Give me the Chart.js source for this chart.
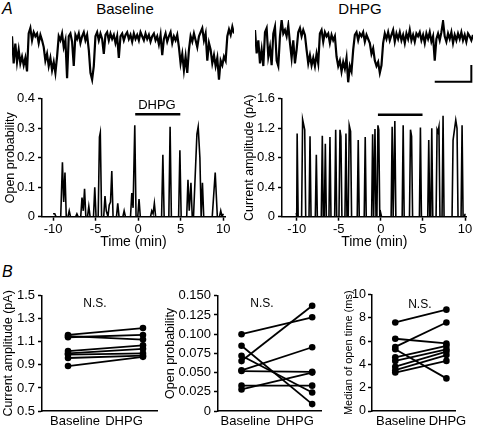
<!DOCTYPE html>
<html>
<head>
<meta charset="utf-8">
<script src="https://cdn.jsdelivr.net/npm/chart.js@4.4.0/dist/chart.umd.min.js"></script>
<style>
  body { margin: 0; background: #fff; width: 480px; height: 428px; position: relative; overflow: hidden;
         font-family: "Liberation Sans", Arial, Helvetica, sans-serif; color: #000; }
  .box { position: absolute; }
  .txt { position: absolute; line-height: 1; white-space: nowrap; }
</style>
</head>
<body>
<div class="txt" style="left:2px;top:1px;font-size:16px;font-style:italic">A</div>
<div class="txt" style="left:85px;top:1px;width:80px;text-align:center;font-size:15px">Baseline</div>
<div class="txt" style="left:320px;top:1px;width:80px;text-align:center;font-size:15px">DHPG</div>
<div class="txt" style="left:2px;top:264px;font-size:16px;font-style:italic">B</div>

<div class="box" style="left:12px;top:20px;width:222px;height:65px"><canvas id="traceBase"></canvas></div>
<div class="box" style="left:255px;top:20px;width:218px;height:65px"><canvas id="traceDhpg"></canvas></div>
<div class="box" style="left:0;top:88px;width:232px;height:165px"><canvas id="openProbTime"></canvas></div>
<div class="box" style="left:240px;top:88px;width:235px;height:165px"><canvas id="ampTime"></canvas></div>
<div class="box" style="left:0;top:285px;width:165px;height:143px"><canvas id="ampPaired"></canvas></div>
<div class="box" style="left:160px;top:285px;width:165px;height:143px"><canvas id="poPaired"></canvas></div>
<div class="box" style="left:340px;top:285px;width:130px;height:143px"><canvas id="otPaired"></canvas></div>

<script>
// ---- data ----
const groups = ['Baseline', 'DHPG'];
const dhpgWindow = [-0.35, 4.95];          // min, bar above the time courses

// single-channel traces (arbitrary units, 0 = closed level)
const baseTrace = [0, -1.0, -0.27, -0.95, -0.5, -1.0, -0.75, -1.07, -0.8, -1.3,
  0.1, 0.3, -0.15, 0.15, 0, 0.1, -0.25, 0.05, -0.15, -0.4,
  -0.9, -0.65, -1.1, -0.8, -1.25, -0.95, -1.35, -0.75, 0, -0.15,
  0.1, -0.4, -0.15, -1.55, 0, 0.1, -0.2, -1.1, 0.05, -0.1,
  0.1, -0.25, 0, 0.15, -0.15, 0.05, -0.5, -1.35, -1.6, -1.1,
  0, 0.15, -0.15, 0.1, -0.1, -0.65, 0.05, 0.15, -0.15, 0.1,
  -0.1, 0.05, -0.25, 0, -0.8, 0, 0.1, -0.15, 0.05, 0.15,
  -0.1, 0.05, -0.2, 0.1, -0.1, 0.05, -0.15, 0.15, 0, -0.15,
  0.1, -0.1, 0.05, -0.2, 0, 0.1, -0.15, 0, -0.3, 0.05,
  -0.7, -0.1, 0.1, -0.2, 0, 0.15, -0.25, 0, -0.15, 0.05,
  -0.4, -1.0, -0.65, -1.25, -0.75, -1.35, -0.5, 0, -0.2, 0.1,
  -0.15, -0.4, 0, 0.15, 0.3, -0.15, 0.1, -0.9, -0.25, -0.5,
  -1.0, -0.7, -1.1, -0.8, -1.6, -0.9, -1.07, -0.75, -0.9, 0,
  0.25, 0.05, 0.35, 0.1];
const dhpgTrace = [0.23, -0.63, -0.15, -1.0, -0.5, -1.1, 0.15, 0.3, -0.75, -0.4,
  -1.07, 0.1, 0.35, -0.9, -1.1, 0, 0.6, 0.1, 0.23, 0,
  0.4, -0.25, -0.8, -0.15, -1.0, -0.5, 0.15, 0.3, 0, 0.23,
  0.05, -0.5, -1.0, -0.7, -1.07, -0.8, -1.1, -0.65, -1.0, 0.1,
  0.23, -0.2, 0.15, 0, 0.1, -0.25, 0.05, -0.15, 0, -0.75,
  -1.1, -0.9, -1.3, -0.95, -1.2, -0.8, -1.7, -1.1, -1.3, -0.5,
  0.05, 0.15, -0.15, 0.1, 0, 0.15, -0.2, 0.05, -0.1, -0.25,
  -0.65, -0.45, -0.9, -1.1, -0.95, -1.35, -1.07, -0.25, 0.1, -0.1,
  0.15, -0.15, 0.05, 0.23, -0.2, 0.1, -0.1, 0.15, -0.15, 0.05,
  -0.25, 0.1, -0.1, 0.23, -0.15, 0.05, -0.2, 0.1, 0, 0.15,
  -0.15, 0.05, -0.25, 0.1, -0.1, 0.15, -0.2, 0, -0.9, -0.1,
  0.1, -0.15, 0.15, 0.55, 0, -0.2, 0.1, -0.1, 0.15, -0.25,
  0.05, -0.15, 0.1, -0.1, 0.15, -0.15, 0.05, -0.2, 0.1, 0,
  -0.15, 0.05];
const scaleBarX = [108, 130, 130];
const scaleBarY = [-1.68, -1.68, -1.06];

// open probability vs time
const poTime = [-10.0, -9.8, -9.65, -9.1, -8.9, -8.75, -8.6, -8.45, -8.25, -8.1, -7.95,
  -7.35, -7.2, -7.05, -6.75, -6.6, -6.45, -6.3, -6.15, -5.95, -5.8, -5.65,
  -5.25, -5.1, -4.95, -4.7, -4.55, -4.45, -4.3, -4.05, -3.9, -3.75, -3.55, -3.4, -3.25, -3.1, -2.95,
  -2.55, -2.4, -2.25, -1.8, -1.65, -1.5, -0.9, -0.75, -0.6, -0.4, -0.25, -0.05, 0.1, 0.25,
  1.45, 1.6, 1.75, 1.9, 2.05, 2.75, 2.9, 3.05, 3.6, 3.75, 3.9, 4.75, 4.9, 5.05,
  5.7, 5.85, 6.0, 6.2, 6.35, 6.5, 6.9, 7.05, 7.25, 7.4, 7.55, 7.7,
  8.7, 9.05, 9.3, 9.55, 9.7, 9.85, 10.0];
const poValue = [0.01, 0.01, 0, 0, 0.185, 0.05, 0.15, 0, 0, 0.02, 0,
  0, 0.01, 0, 0, 0.065, 0.02, 0.095, 0, 0, 0.035, 0,
  0, 0.1, 0, 0, 0.27, 0.285, 0, 0, 0.07, 0.02, 0, 0.04, 0.05, 0.155, 0,
  0, 0.045, 0, 0, 0.02, 0, 0, 0.08, 0.03, 0.31, 0, 0, 0.06, 0,
  0, 0.02, 0.01, 0.045, 0, 0, 0.21, 0, 0, 0.305, 0, 0, 0.225, 0,
  0, 0.125, 0.02, 0.115, 0, 0, 0.28, 0.305, 0.2, 0, 0.115, 0,
  0, 0.15, 0, 0, 0.02, 0, 0.01];

// current amplitude vs time
const caTime = [-10.05, -10.0, -9.95, -9.83, -9.42, -9.3, -9.05, -8.93, -8.54, -8.42, -8.3,
  -7.79, -7.67, -7.55, -7.08, -6.96, -6.84, -6.72, -6.6, -6.48, -6.17, -6.05, -5.93,
  -5.49, -5.37, -5.25, -4.98, -4.86, -4.75, -4.63, -4.27, -4.15, -4.03,
  -3.88, -3.76, -3.6, -3.48, -2.81, -2.69, -2.57, -1.98, -1.86, -1.74,
  -1.1, -0.98, -0.86, -0.82, -0.7, -0.58, -0.47, -0.35, -0.25, -0.13, -0.02, 0.08,
  1.22, 1.34, 1.46, 1.54, 1.66, 1.78, 2.53, 2.65, 2.77, 3.4, 3.52, 3.65, 3.77,
  4.58, 4.7, 4.82, 5.57, 5.69, 5.81, 5.93, 6.05, 6.17, 6.56, 6.68, 6.78, 6.9, 7.02,
  7.27, 7.39, 7.51, 8.46, 8.58, 8.9, 9.05, 9.17, 9.53, 9.65, 9.77, 9.95, 10.0];
const caValue = [0.05, 0, 1.13, 0, 0, 1.32, 1.18, 0, 0, 1.09, 0,
  0, 0.84, 0, 0, 1.10, 0, 0, 0.99, 0, 0, 1.08, 0,
  0, 1.18, 0, 0, 1.18, 1.09, 0, 0, 1.13, 0,
  0, 1.24, 1.16, 0, 0, 1.04, 0, 0, 1.08, 0,
  0, 1.12, 0, 0, 1.19, 0, 0, 1.24, 1.18, 0, 0.05, 0,
  0, 1.22, 0, 0, 1.30, 0, 0, 1.24, 0, 0, 1.18, 1.09, 0,
  0, 1.21, 0, 0, 1.04, 0, 0, 1.2, 0, 0, 1.18, 1.15, 1.22, 0,
  0, 1.37, 0, 0, 1.04, 1.31, 1.2, 0, 0, 1.24, 0, 0, 0.04];

const timeTicks = [-10, -5, 0, 5, 10];
const poTicks = [0, 0.1, 0.2, 0.3, 0.4];
const caTicks = [0, 0.2, 0.4, 0.6, 0.8, 1.0, 1.2, 1.4, 1.6];

// paired cells, baseline vs DHPG
const ampBaseline = [1.16, 1.14, 1.15, 1.02, 1.00, 0.99, 0.96, 0.89];
const ampDhpg     = [1.22, 1.16, 1.12, 1.07, 1.04, 1.00, 0.98, 0.97];
const poBaseline  = [0.100, 0.085, 0.072, 0.065, 0.053, 0.052, 0.033, 0.028];
const poDhpg      = [0.122, 0.009, 0.024, 0.137, 0.083, 0.051, 0.033, 0.050];
const otBaseline  = [7.6, 6.2, 5.5, 5.3, 4.6, 4.3, 3.8, 3.5, 3.3];
const otDhpg      = [8.7, 5.8, 7.6, 2.8, 5.6, 5.3, 5.1, 4.8, 4.3];

const ampTicks = [0.5, 0.7, 0.9, 1.1, 1.3, 1.5];
const poPairTicks = [0, 0.025, 0.05, 0.075, 0.1, 0.125, 0.15];
const otTicks = [0, 2, 4, 6, 8, 10];

// ---- helpers ----
const BLACK = '#000';
const FONT = '"Liberation Sans", Arial, Helvetica, sans-serif';

const fixWidth = w => scale => { scale.width = w; };
const fixHeight = h => scale => { scale.height = h; };
const setTicks = values => scale => { scale.ticks = values.map(v => ({ value: v })); };

// draws small text annotations (DHPG, N.S.) at data coordinates
const textLabels = {
    id: 'textLabels',
    afterDatasetsDraw(chart, args, opts) {
        const items = opts.items || [];
        const { ctx, scales: { x, y } } = chart;
        ctx.save();
        ctx.fillStyle = BLACK;
        ctx.font = `${opts.size || 13}px ${FONT}`;
        ctx.textAlign = 'center';
        ctx.textBaseline = 'middle';
        items.forEach(it => ctx.fillText(it.text, x.getPixelForValue(it.x), y.getPixelForValue(it.y)));
        ctx.restore();
    }
};

const baseOptions = () => ({
    responsive: true,
    maintainAspectRatio: false,
    animation: false,
    events: [],
    plugins: { legend: { display: false }, tooltip: { enabled: false } }
});

const makeTrace = (canvasId, values, extra) => {
    const datasets = [{
        data: values.map((v, i) => ({ x: i, y: v })),
        borderColor: BLACK, borderWidth: 2.2, pointRadius: 0, tension: 0, clip: false
    }];
    if (extra) datasets.push(extra);
    const opts = baseOptions();
    opts.layout = { padding: 0 };
    opts.scales = {
        x: { type: 'linear', display: false, min: 0, max: values.length - 1 },
        y: { display: false, min: -1.8, max: 0.6 }
    };
    return new Chart(document.getElementById(canvasId), { type: 'line', data: { datasets }, options: opts });
};

const axisY = (o) => ({
    min: o.min, max: o.max,
    afterBuildTicks: setTicks(o.ticks),
    afterFit: fixWidth(o.width),
    grid: { drawOnChartArea: false, tickLength: 4, tickWidth: 1.5, tickColor: BLACK },
    border: { color: BLACK, width: 1.5 },
    ticks: { color: BLACK, font: { family: FONT, size: o.tickSize || 13 }, padding: o.tickPad ?? 3, callback: o.fmt },
    title: { display: true, text: o.title, color: BLACK, font: { family: FONT, size: o.titleSize || 12.5 },
             padding: { top: o.titlePad, bottom: 0 } }
});

const makeTimeCourse = (canvasId, o) => {
    const opts = baseOptions();
    opts.layout = { padding: o.padding };
    opts.plugins.textLabels = { items: o.labels, size: 13 };
    opts.scales = {
        x: {
            type: 'linear', min: o.xMin, max: 10.2,
            afterBuildTicks: setTicks(timeTicks),
            afterFit: fixHeight(34),
            grid: { drawOnChartArea: false, tickLength: 4, tickWidth: 1.5, tickColor: BLACK },
            border: { color: BLACK, width: 1.5 },
            ticks: { color: BLACK, font: { family: FONT, size: 13 }, padding: 1, maxRotation: 0, autoSkip: false },
            title: { display: true, text: 'Time (min)', color: BLACK, font: { family: FONT, size: 14 },
                     padding: { top: 0, bottom: 0 } }
        },
        y: axisY(o.y)
    };
    return new Chart(document.getElementById(canvasId), {
        type: 'line',
        data: {
            datasets: [
                { data: o.times.map((t, i) => ({ x: t, y: o.values[i] })),
                  borderColor: BLACK, borderWidth: 1.6, pointRadius: 0, tension: 0 },
                { data: dhpgWindow.map(t => ({ x: t, y: o.barY })),
                  borderColor: BLACK, borderWidth: 2.5, pointRadius: 0 }
            ]
        },
        options: opts,
        plugins: [textLabels]
    });
};

const makePaired = (canvasId, o) => {
    const opts = baseOptions();
    opts.layout = { padding: o.padding };
    opts.plugins.textLabels = { items: [{ text: 'N.S.', x: o.ns[0], y: o.ns[1] }], size: 12 };
    opts.scales = {
        x: {
            type: 'linear', min: o.xMin, max: o.xMax,
            afterBuildTicks: setTicks(o.labelPos),
            afterFit: fixHeight(17),
            grid: { display: false, drawTicks: false },
            border: { color: BLACK, width: 1.5 },
            ticks: { color: BLACK, font: { family: FONT, size: 13 }, padding: 3, maxRotation: 0, autoSkip: false,
                     callback: (v, i) => groups[i] }
        },
        y: axisY(o.y)
    };
    return new Chart(document.getElementById(canvasId), {
        type: 'line',
        data: {
            datasets: o.base.map((b, i) => ({
                data: [{ x: 0, y: b }, { x: 1, y: o.dhpg[i] }],
                borderColor: BLACK, backgroundColor: BLACK, borderWidth: 1.8,
                pointRadius: 3.3, pointBorderWidth: 0, clip: false
            }))
        },
        options: opts,
        plugins: [textLabels]
    });
};

// ---- build ----
makeTrace('traceBase', baseTrace);
makeTrace('traceDhpg', dhpgTrace, {
    data: scaleBarX.map((x, i) => ({ x, y: scaleBarY[i] })),
    borderColor: BLACK, borderWidth: 2, pointRadius: 0, clip: false
});

makeTimeCourse('openProbTime', {
    times: poTime, values: poValue, xMin: -11.3, barY: 0.348,
    padding: { top: 8.7, right: 7, bottom: 2.3, left: 0 },
    labels: [{ text: 'DHPG', x: 2.2, y: 0.378 }],
    y: { min: 0, max: 0.4, ticks: poTicks, width: 42, title: 'Open probability', titlePad: 3.5,
         fmt: v => (v === 0 ? '0' : v.toFixed(1)) }
});

makeTimeCourse('ampTime', {
    times: caTime, values: caValue, xMin: -11.75, barY: 1.385,
    padding: { top: 8, right: 8.3, bottom: 2.3, left: 0 },
    labels: [],
    y: { min: 0, max: 1.6, ticks: caTicks, width: 42, title: 'Current amplitude (pA)', titlePad: 2.5,
         fmt: v => (v === 0 ? '0' : v.toFixed(1)) }
});

makePaired('ampPaired', {
    base: ampBaseline, dhpg: ampDhpg, xMin: -0.347, xMax: 1.187, labelPos: [0.093, 0.747],
    padding: { top: 6.7, right: 8, bottom: 0, left: 0 }, ns: [0.36, 1.43],
    y: { min: 0.5, max: 1.5, ticks: ampTicks, width: 42, title: 'Current amplitude (pA)', titlePad: 1.5,
         fmt: v => v.toFixed(1) }
});

makePaired('poPaired', {
    base: poBaseline, dhpg: poDhpg, xMin: -0.333, xMax: 1.125, labelPos: [0.056, 0.757],
    padding: { top: 6.7, right: 2, bottom: 0, left: 0 }, ns: [0.29, 0.1396],
    y: { min: 0, max: 0.15, ticks: poPairTicks, width: 58, title: 'Open probability', titlePad: 3.5,
         fmt: v => (v === 0 ? '0' : v.toFixed(3)) }
});

makePaired('otPaired', {
    base: otBaseline, dhpg: otDhpg, xMin: -0.455, xMax: 1.18, labelPos: [0.11, 1.02],
    padding: { top: 6.7, right: 8, bottom: 0, left: 0 }, ns: [0.48, 9.14],
    y: { min: 0, max: 10, ticks: otTicks, width: 32, title: 'Median of open time (ms)', titlePad: 2.5,
         titleSize: 11, tickSize: 12.5, tickPad: 2, fmt: v => String(v) }
});
</script>
</body>
</html>
